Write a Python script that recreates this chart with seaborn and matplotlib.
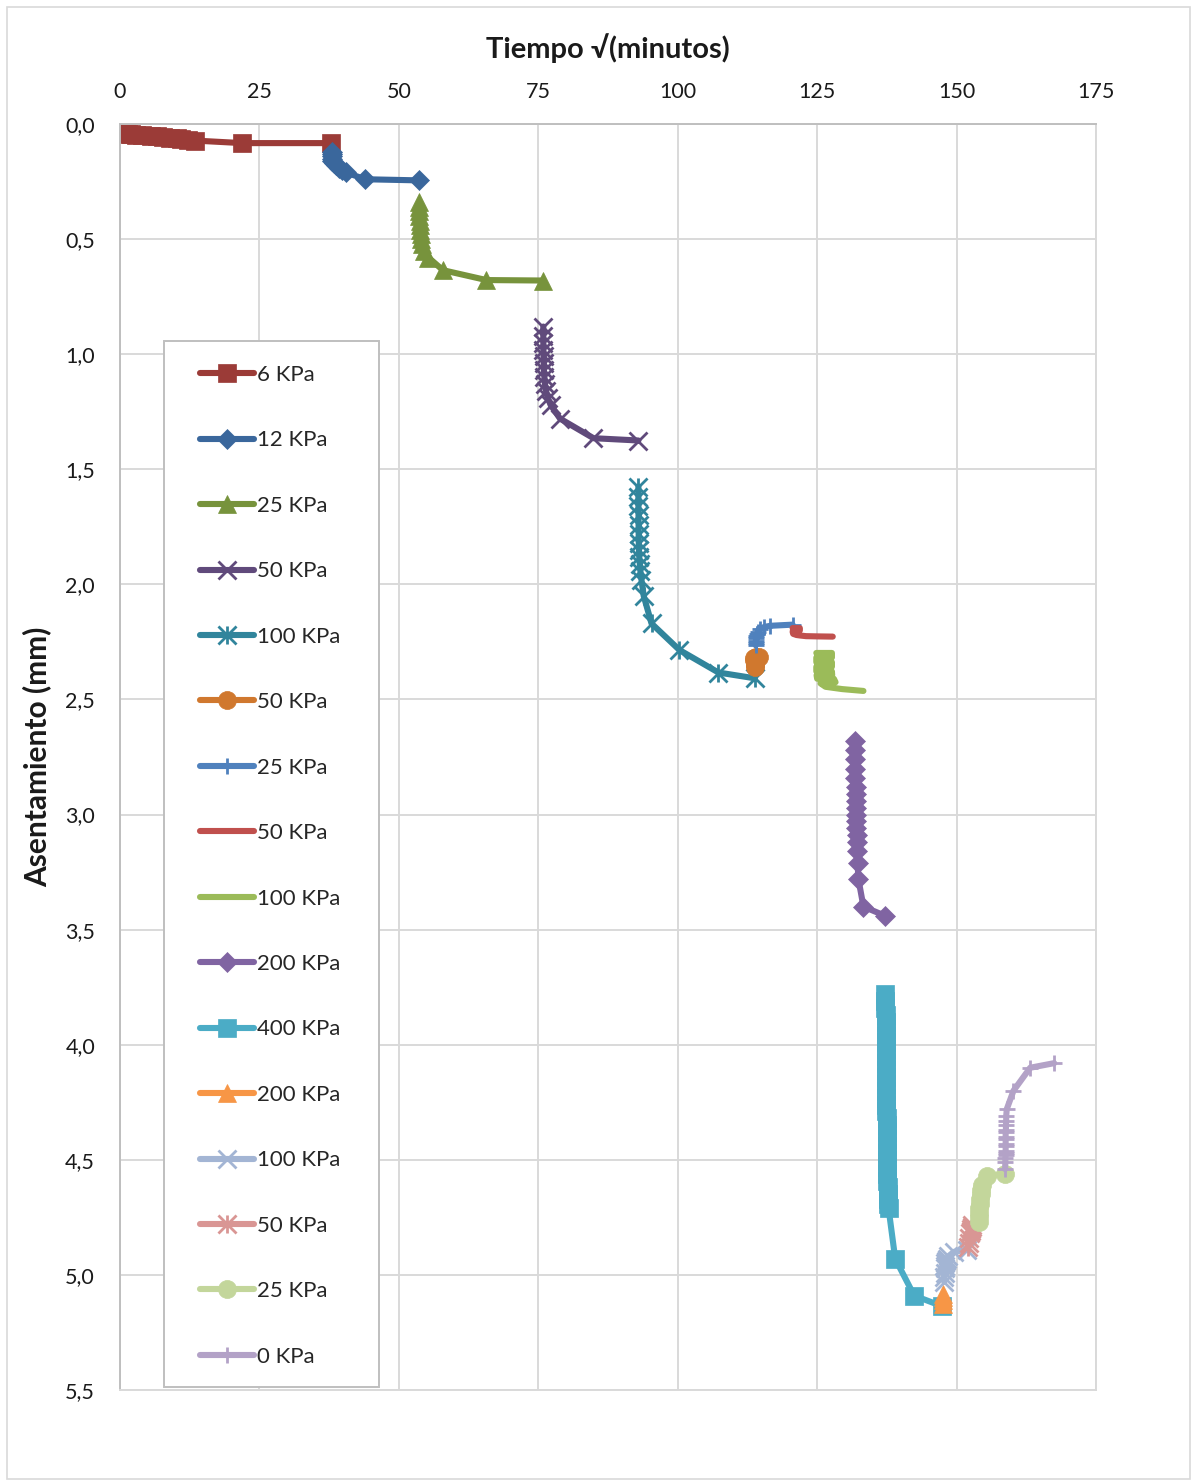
import numpy as np
import matplotlib
matplotlib.use("Agg")
import matplotlib.pyplot as plt
from matplotlib.path import Path
from matplotlib.patches import Rectangle
from matplotlib.ticker import FuncFormatter, MultipleLocator
import seaborn as sns

sns.set_theme(style="white")
plt.rcParams["font.family"] = ["Lato", "DejaVu Sans"]

# ---------------- data ----------------
x6 = [0, 0.3, 0.5, 0.7, 1.0, 1.4, 2.0, 2.8, 3.9, 5.5, 6.7, 7.7, 9.0, 10.2, 11.0, 12.2, 13.4, 21.9, 37.9]
y6 = [0.01, 0.02, 0.03, 0.035, 0.04, 0.042, 0.044, 0.046, 0.048, 0.05, 0.053, 0.056, 0.059, 0.062, 0.065, 0.068, 0.072, 0.083, 0.083]

x12 = [37.95, 37.96, 37.98, 38.0, 38.1, 38.3, 38.7, 39.2, 39.8, 40.5, 43.9, 53.7]
y12 = [0.12, 0.13, 0.14, 0.15, 0.16, 0.17, 0.18, 0.19, 0.20, 0.21, 0.24, 0.245]

x25 = [53.67, 53.68, 53.69, 53.7, 53.72, 53.75, 53.8, 53.9, 54.0, 54.2, 54.5, 55.3, 57.9, 65.7, 75.9]
y25 = [0.34, 0.36, 0.38, 0.40, 0.42, 0.44, 0.46, 0.48, 0.50, 0.52, 0.55, 0.58, 0.635, 0.678, 0.68]

x50 = [75.9, 75.9, 75.91, 75.92, 75.94, 75.97, 76.0, 76.1, 76.2, 76.4, 76.7, 77.2, 78.9, 84.9, 92.95]
y50 = [0.88, 0.92, 0.95, 0.98, 1.01, 1.04, 1.07, 1.10, 1.13, 1.16, 1.19, 1.22, 1.28, 1.365, 1.375]

x100 = [92.95, 92.95, 92.96, 92.97, 92.98, 93.0, 93.02, 93.05, 93.1, 93.2, 93.3, 93.5, 93.9, 95.3, 100.3, 107.3, 113.8]
y100 = [1.575, 1.62, 1.66, 1.70, 1.74, 1.78, 1.82, 1.85, 1.88, 1.91, 1.94, 1.98, 2.05, 2.17, 2.285, 2.383, 2.408]

x50u = [113.9, 113.9, 113.8, 113.7, 113.7, 114.0, 114.5]
y50u = [2.36, 2.35, 2.34, 2.33, 2.32, 2.315, 2.315]

x25u = [114.0, 114.0, 114.0, 114.05, 114.1, 114.2, 114.4, 114.8, 115.5, 116.6, 120.6]
y25u = [2.265, 2.255, 2.245, 2.235, 2.225, 2.215, 2.205, 2.195, 2.185, 2.18, 2.175]

x50r = [120.6, 121.9, 121.9, 120.6, 120.7, 121.3, 121.9, 123.0, 125.0, 127.8]
y50r = [2.19, 2.19, 2.20, 2.205, 2.215, 2.22, 2.222, 2.225, 2.226, 2.227]

x100r = [124.85, 127.65, 127.65, 124.85, 124.85, 127.65, 127.65, 124.85, 124.85, 127.65, 127.7, 124.9,
         125.0, 128.0, 128.3, 125.6, 126.5, 129.5, 133.3]
y100r = [2.298, 2.298, 2.318, 2.318, 2.338, 2.338, 2.358, 2.358, 2.378, 2.378, 2.395, 2.395,
         2.41, 2.41, 2.425, 2.43, 2.445, 2.455, 2.463]

x200 = [131.8, 131.8, 131.82, 131.85, 131.87, 131.9, 131.92, 131.95, 131.97, 132.0, 132.02, 132.05, 132.1, 132.15, 132.2, 132.25, 132.4, 133.3, 137.2]
y200 = [2.68, 2.72, 2.76, 2.80, 2.84, 2.88, 2.91, 2.94, 2.97, 3.00, 3.03, 3.06, 3.09, 3.12, 3.16, 3.21, 3.28, 3.40, 3.44]

x400 = [137.25, 137.25, 137.25, 137.26, 137.27, 137.28, 137.3, 137.3, 137.31, 137.32, 137.33, 137.35,
        137.36, 137.37, 137.38, 137.4, 137.41, 137.42, 137.44, 137.45, 137.47, 137.5, 137.51, 137.52,
        137.54, 137.55, 137.57, 137.6, 137.63, 137.65, 137.7, 137.75, 137.8, 139.0, 142.4, 147.3]
y400 = [3.78, 3.81, 3.84, 3.87, 3.90, 3.93, 3.96, 3.99, 4.02, 4.05, 4.08, 4.11,
        4.14, 4.17, 4.20, 4.23, 4.26, 4.29, 4.32, 4.35, 4.38, 4.41, 4.44, 4.47,
        4.50, 4.53, 4.56, 4.59, 4.62, 4.65, 4.67, 4.69, 4.71, 4.93, 5.09, 5.135]

x200u = [147.5, 147.5, 147.5, 147.5]
y200u = [5.125, 5.11, 5.095, 5.085]

x100u = [147.8, 147.8, 147.85, 147.9, 147.95, 148.0, 148.1, 148.2, 148.5, 149.5, 151.9]
y100u = [5.03, 5.01, 4.99, 4.97, 4.96, 4.95, 4.94, 4.93, 4.92, 4.90, 4.89]

x50d = [152.0, 152.2, 152.3, 152.4, 152.5, 152.6, 152.7, 152.8]
y50d = [4.88, 4.86, 4.84, 4.82, 4.81, 4.80, 4.79, 4.785]

x25d = [154.0, 154.0, 154.05, 154.1, 154.15, 154.2, 154.3, 154.4, 154.6, 155.4, 158.7]
y25d = [4.77, 4.75, 4.73, 4.71, 4.69, 4.67, 4.65, 4.63, 4.61, 4.57, 4.56]

x0 = [158.7, 158.75, 158.75, 158.8, 158.8, 158.8, 158.8, 158.8, 158.8, 158.8, 158.8, 158.85, 158.85, 158.9, 158.9, 159.0, 160.2, 163.2, 167.5]
y0 = [4.54, 4.51, 4.49, 4.48, 4.47, 4.46, 4.44, 4.43, 4.41, 4.40, 4.38, 4.37, 4.35, 4.33, 4.31, 4.28, 4.20, 4.10, 4.08]

labels = ["6 KPa", "12 KPa", "25 KPa", "50 KPa", "100 KPa", "50 KPa", "25 KPa", "50 KPa",
          "100 KPa", "200 KPa", "400 KPa", "200 KPa", "100 KPa", "50 KPa", "25 KPa", "0 KPa"]
xs = [x6, x12, x25, x50, x100, x50u, x25u, x50r, x100r, x200, x400, x200u, x100u, x50d, x25d, x0]
ys = [y6, y12, y25, y50, y100, y50u, y25u, y50r, y100r, y200, y400, y200u, y100u, y50d, y25d, y0]

x_ticks = [0, 25, 50, 75, 100, 125, 150, 175]

# ---------------- styles ----------------
asterisk = Path([(-0.5, -0.5), (0.5, 0.5), (-0.5, 0.5), (0.5, -0.5), (0, -0.5), (0, 0.5)],
                [Path.MOVETO, Path.LINETO, Path.MOVETO, Path.LINETO, Path.MOVETO, Path.LINETO])

colors = ["#9B3B37", "#3A679C", "#77933C", "#604A7B", "#31859C", "#D0782E", "#4F81BD", "#C0504D",
          "#9BBB59", "#8064A2", "#4BACC6", "#F79646", "#A3B5D4", "#D99694", "#C3D69B", "#B3A2C7"]
markers = ["s", "D", "^", "x", asterisk, "o", "+", None, None, "D", "s", "^", "x", asterisk, "o", "+"]
msizes = [13, 10, 13, 13, 13, 13, 12, 0, 0, 10, 13, 13, 13, 13, 13, 12]

W, H = 1194, 1483
fig = plt.figure(figsize=(W / 100, H / 100), dpi=100)
L, R, T, B = 120, 1096, 124, 1390
ax = fig.add_axes([L / W, 1 - B / H, (R - L) / W, (B - T) / H])

for xv, yv, lab, c, m, ms in zip(xs, ys, labels, colors, markers, msizes):
    kw = dict(color=c, linewidth=4.4, solid_joinstyle="round", solid_capstyle="round")
    if m is not None:
        line_m = m in ("x", "+") or m is asterisk
        kw.update(marker=m, markersize=ms, markerfacecolor=c, markeredgecolor=c,
                  markeredgewidth=2.0 if line_m else 0.5)
    sns.lineplot(x=np.array(xv), y=np.array(yv), sort=False, estimator=None,
                 ax=ax, label=lab, **kw)

ax.set_xlim(0, 175)
ax.set_ylim(5.5, 0)
ax.xaxis.tick_top()
ax.set_xticks(x_ticks)
ax.set_xticklabels([str(t) for t in x_ticks])
ax.yaxis.set_major_locator(MultipleLocator(0.5))
ax.yaxis.set_major_formatter(FuncFormatter(lambda v, p: f"{v:.1f}".replace(".", ",")))
ax.tick_params(axis="x", length=0, pad=16, labelsize=15.5, labelcolor="#1a1a1a")
ax.tick_params(axis="y", length=0, pad=18, labelsize=15.5, labelcolor="#1a1a1a")
ax.grid(True, color="#D9D9D9", linewidth=1.4)
ax.set_axisbelow(True)
for s in ax.spines.values():
    s.set_color("#D9D9D9")
    s.set_linewidth(1.4)
ax.spines["left"].set_color("#BFBFBF")
ax.spines["top"].set_color("#BFBFBF")
ax.set_xlabel("")
ax.set_ylabel("")

# legend frame drawn as a box, entries placed inside
lx0, ly0, lx1, ly1 = 164, 341, 379, 1387
ax.add_patch(Rectangle(((lx0 - L) / (R - L), (B - ly1) / (B - T)), (lx1 - lx0) / (R - L), (ly1 - ly0) / (B - T),
                       transform=ax.transAxes, facecolor="white", edgecolor="#BFBFBF", linewidth=1.4, zorder=1.5))
h, lb = ax.get_legend_handles_labels()
leg = ax.legend(h, lb, loc="upper left", bbox_to_anchor=((200 - L) / (R - L), (B - 365) / (B - T)),
                frameon=False, borderpad=0, borderaxespad=0, handlelength=2.43, handletextpad=0.14,
                labelspacing=2.045, fontsize=16)
leg.set_zorder(5)

fig.text(608 / W, 1 - 48 / H, "Tiempo √(minutos)", ha="center", va="center", fontsize=21,
         fontweight="bold", color="#1a1a1a")
fig.text(37 / W, 1 - 757 / H, "Asentamiento (mm)", ha="center", va="center", rotation=90,
         fontsize=21.5, fontweight="bold", color="#1a1a1a")

fig.patches.append(Rectangle((7 / W, 1 - 1479 / H), (1190 - 7) / W, (1479 - 7) / H,
                             transform=fig.transFigure, fill=False, edgecolor="#D9D9D9", linewidth=1.2))

fig.savefig("out.png", dpi=100, facecolor="white")
